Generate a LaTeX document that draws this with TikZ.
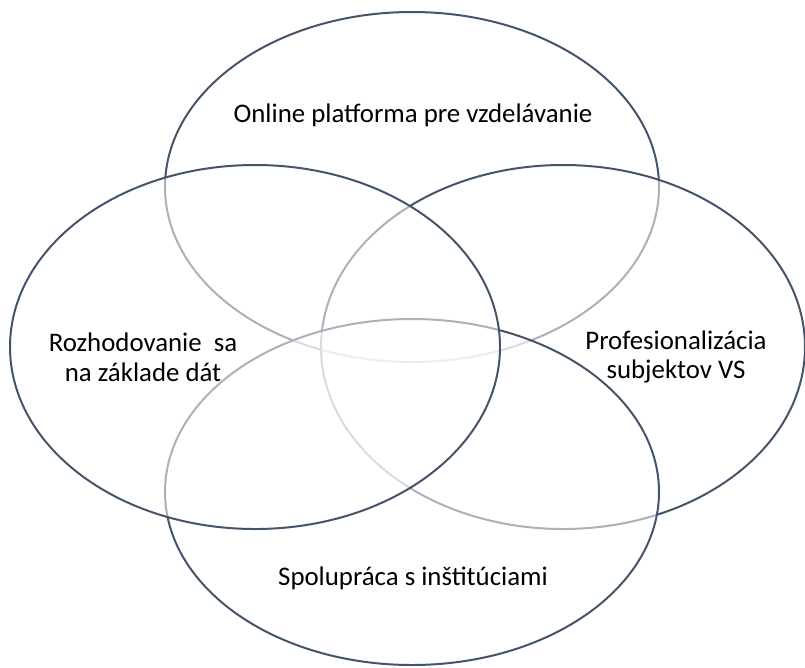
\documentclass[tikz,border=0pt]{standalone}
\usepackage{fontspec}
\setmainfont{Carlito}
\usepackage{tikz}

\definecolor{rim}{HTML}{44546A}

\begin{document}
\begin{tikzpicture}[x=0.02646cm,y=-0.02646cm,
        circ/.style={draw=rim,line width=1.5pt,fill=white,fill opacity=0.55},
        lbl/.style={font=\fontsize{20.2}{22.5}\selectfont,align=center,text=black}]
        \useasboundingbox (0,0) rectangle (805,667);
        % the four ellipses, back to front
        \draw[circ] (412,187) ellipse (247 and 175);
        \draw[circ] (563,347) ellipse (242 and 182);
        \draw[circ] (412,492) ellipse (247 and 173);
        \draw[circ] (255,347) ellipse (245 and 182);
        % texts
        \node[lbl] (online) at (413,115) {Online platforma pre vzdelávanie};
        \node[lbl] (rozh) at (143,357) {Rozhodovanie\ \ sa\\na základe dát};
        \node[lbl] (prof) at (676,357) {Profesionalizácia\\subjektov VS};
        \node[lbl] (spol) at (413,578) {Spolupráca s inštitúciami};
\end{tikzpicture}
\end{document}
